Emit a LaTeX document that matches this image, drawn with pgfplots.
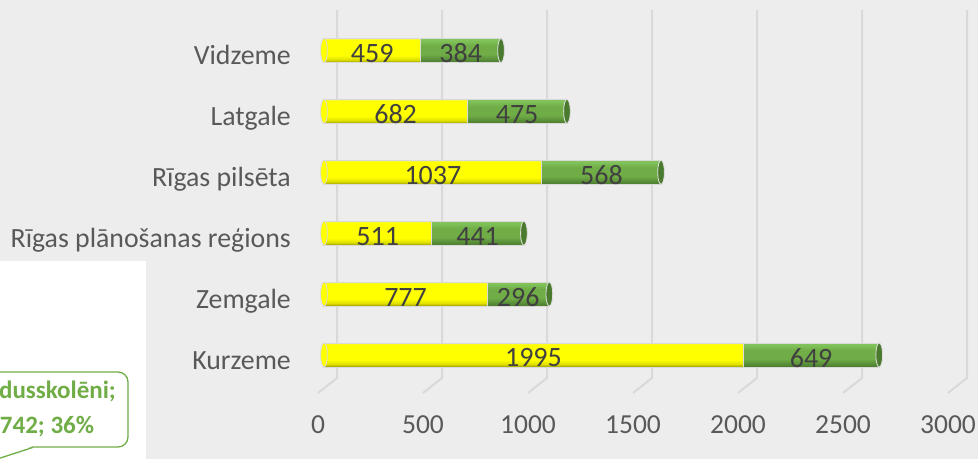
\documentclass[border=0pt]{standalone}
\usepackage{pgfplots}
\usepackage{pgfplotstable}
\usepackage{fontspec}
\setmainfont{Carlito}
\pgfplotsset{compat=1.18}
\definecolor{bg}{HTML}{EDEDED}
\definecolor{gridc}{HTML}{D9D9D9}
\definecolor{txt}{HTML}{595959}
\definecolor{lbl}{HTML}{404040}
\definecolor{gr}{HTML}{70AD47}
\definecolor{grl}{HTML}{82C45B}
\definecolor{grd}{HTML}{4A7A2E}
\definecolor{yl}{HTML}{FFFF00}
\definecolor{yll}{HTML}{F4F460}
\definecolor{ylm}{HTML}{E0E000}
\definecolor{yld}{HTML}{9A9A00}
\pgfdeclareverticalshading{ycyl}{100bp}{color(0bp)=(yld); color(25bp)=(yld); color(31bp)=(ylm); color(40bp)=(yl); color(72bp)=(yl); color(75bp)=(yll); color(100bp)=(yll)}
\pgfdeclareverticalshading{gcyl}{100bp}{color(0bp)=(grd); color(25bp)=(grd); color(42bp)=(gr); color(60bp)=(gr); color(72bp)=(grl); color(75bp)=(grl); color(100bp)=(grl)}

\pgfplotstableread{
y a b
0 1995 649
1 777 296
2 511 441
3 1037 568
4 682 475
5 459 384
}\data

\begin{document}
\begin{tikzpicture}
\useasboundingbox (0,0) rectangle (978pt,459pt);
\fill[bg] (0,0) rectangle (978pt,459pt);
\begin{axis}[
  anchor=origin, at={(324pt,104pt)},
  x=0.21pt, y=60.9pt,
  xmin=0, xmax=3000, ymin=-1, ymax=5.7,
  clip=false,
  axis line style={draw=none},
  major tick length=0pt,
  xtick={0,500,...,3000},
  ytick={0,...,5},
  yticklabels={Kurzeme,Zemgale,{Rīgas plānošanas reģions},{Rīgas pilsēta},Latgale,Vidzeme},
  /pgf/number format/assume math mode=true,
  /pgf/number format/1000 sep={},
  xticklabel style={font=\fontsize{27.5}{30}\selectfont, text=txt, anchor=center, yshift=-9pt, xshift=-6pt},
  yticklabel style={font=\fontsize{27.8}{30}\selectfont, text=txt, anchor=base east, inner sep=0pt, xshift=-33pt, yshift=-14pt},
]
% gridlines (3D back wall and floor edge)
\addplot[gridc, line width=2pt] coordinates {(62,5.665) (62,-0.378) (-29,-0.624)};
\addplot[gridc, line width=2pt] coordinates {(562,5.665) (562,-0.378) (471,-0.624)};
\addplot[gridc, line width=2pt] coordinates {(1062,5.665) (1062,-0.378) (971,-0.624)};
\addplot[gridc, line width=2pt] coordinates {(1562,5.665) (1562,-0.378) (1471,-0.624)};
\addplot[gridc, line width=2pt] coordinates {(2062,5.665) (2062,-0.378) (1971,-0.624)};
\addplot[gridc, line width=2pt] coordinates {(2562,5.665) (2562,-0.378) (2471,-0.624)};
\addplot[gridc, line width=2pt] coordinates {(3062,5.665) (3062,-0.378) (2971,-0.624)};
% green (total) bars, one path per bar so each gets its own shading
\pgfplotsinvokeforeach{0,...,5}{
\addplot[xbar, bar width=24pt, bar shift=0pt, draw=gray!30, line width=0.8pt,
  shading=gcyl, restrict y to domain=#1:#1]
  table[x expr=\thisrow{a}+\thisrow{b}, y=y]{\data};
}
% left rounded caps
\addplot[only marks, mark=*, mark size=12pt,
  mark options={xscale=0.28, fill=yl, draw=gray!30, line width=0.8pt}]
  table[x expr=0, y=y]{\data};
% yellow bars
\pgfplotsinvokeforeach{0,...,5}{
\addplot[xbar, bar width=24pt, bar shift=0pt, draw=gray!30, line width=0.8pt,
  shading=ycyl, restrict y to domain=#1:#1]
  table[x=a, y=y]{\data};
}
% right end caps
\addplot[only marks, mark=*, mark size=12pt,
  mark options={xscale=0.28, fill=grd, draw=gray!25, line width=0.8pt}]
  table[x expr=\thisrow{a}+\thisrow{b}, y=y]{\data};
% data labels
\addplot[draw=none, mark=none, nodes near coords, point meta=explicit,
  every node near coord/.append style={font=\fontsize{28}{30}\selectfont, text=lbl, anchor=center, yshift=-3pt}]
  table[x expr=\thisrow{a}/2, y=y, meta=a]{\data};
\addplot[draw=none, mark=none, nodes near coords, point meta=explicit,
  every node near coord/.append style={font=\fontsize{28}{30}\selectfont, text=lbl, anchor=center, yshift=-3pt}]
  table[x expr=\thisrow{a}+\thisrow{b}/2, y=y, meta=b]{\data};
\end{axis}
% white panel and callout at lower left
\fill[white] (0,0) rectangle (146pt,198pt);
\draw[gr, line width=1.3pt, fill=white, rounded corners=10pt] (-20pt,12pt) rectangle (128pt,87pt);
\fill[white] (-5pt,13pt) -- (33pt,13pt) -- (-15pt,-5pt) -- cycle;
\draw[gr, line width=1.3pt] (33pt,11.6pt) -- (-15pt,-4pt);
\node[font=\bfseries\fontsize{25}{35.5}\selectfont, text=gr, align=center, inner sep=0pt] at (47pt,50pt) {Vidusskolēni;\\742; 36\%};
\end{tikzpicture}
\end{document}
